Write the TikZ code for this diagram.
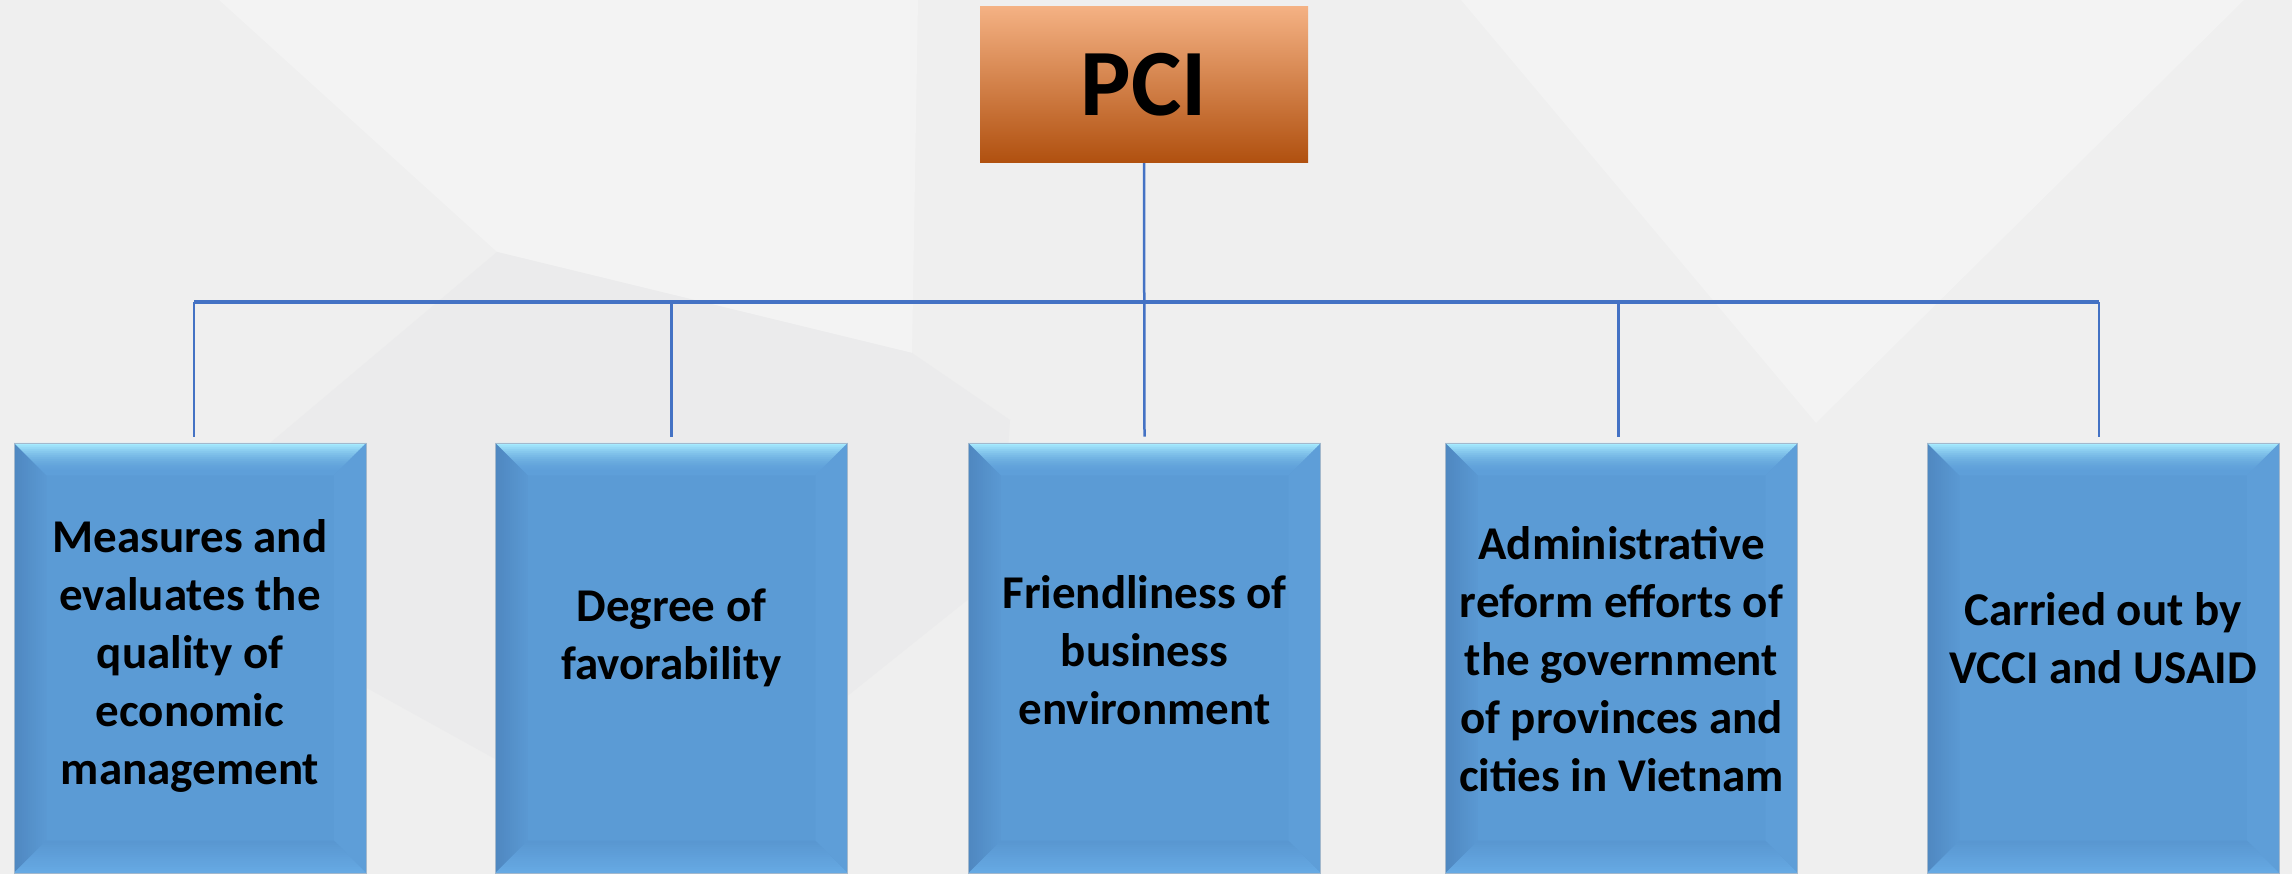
\documentclass[tikz,border=0pt]{standalone}
\usepackage{fontspec}
\setmainfont{Carlito}
\definecolor{connblue}{HTML}{4472C4}
\definecolor{bgbase}{HTML}{EFEFEF}
\definecolor{bglight}{HTML}{F3F3F3}
\definecolor{bgdark}{HTML}{EBEBEC}
\definecolor{boxmid}{HTML}{5B9BD5}
\definecolor{boxedge}{HTML}{A3B8CC}
\definecolor{bvltopout}{HTML}{A8ECFF}
\definecolor{bvltopin}{HTML}{5E9FD9}
\definecolor{bvlleftout}{HTML}{4F88C1}
\definecolor{bvlleftin}{HTML}{5A98D2}
\definecolor{bvlright}{HTML}{5E9ED8}
\definecolor{bvlbotin}{HTML}{5997D1}
\definecolor{bvlbotout}{HTML}{66A9E3}
\definecolor{pcitop}{HTML}{F4B183}
\definecolor{pcimid}{HTML}{F3852F}
\definecolor{pcibot}{HTML}{B0500F}
\newcommand{\bvlNW}{path picture bounding box.north west}
\newcommand{\bvlNE}{path picture bounding box.north east}
\newcommand{\bvlSW}{path picture bounding box.south west}
\newcommand{\bvlSE}{path picture bounding box.south east}
\begin{document}
\begin{tikzpicture}[x=1pt,y=1pt,
  conn/.style={draw=connblue, line width=2.5pt},
  busline/.style={draw=connblue, line width=3.2pt},
  pcibox/.style={minimum width=328pt, minimum height=156pt, inner sep=0pt,
    top color=pcitop, middle color=pcimid, bottom color=pcibot,
    font=\fontsize{95}{95}\selectfont\bfseries},
  bevelbox/.style={minimum width=352pt, minimum height=430pt, inner sep=0pt,
    fill=boxmid, draw=boxedge, line width=0.8pt,
    path picture={
      % right bevel
      \fill[bvlright] (\bvlNE) -- ([shift={(-32pt,-32pt)}]\bvlNE)
        -- ([shift={(-32pt,32pt)}]\bvlSE) -- (\bvlSE) -- cycle;
      % left, bottom and top bevels, each built from thin strips
      \foreach \i in {0,...,15} {
        \pgfmathsetmacro\ta{2*\i}
        \pgfmathsetmacro\tb{2*\i+2.4}
        \pgfmathsetmacro\tl{100*(1-\i/15)}
        \pgfmathsetmacro\tp{100*(1-\i/15)^2}
        \fill[bvlleftout!\tl!bvlleftin]
          ([shift={(\ta pt,-\ta pt)}]\bvlNW) -- ([shift={(\tb pt,-\tb pt)}]\bvlNW)
          -- ([shift={(\tb pt,\tb pt)}]\bvlSW) -- ([shift={(\ta pt,\ta pt)}]\bvlSW) -- cycle;
        \fill[bvlbotout!\tl!bvlbotin]
          ([shift={(\ta pt,\ta pt)}]\bvlSW) -- ([shift={(-\ta pt,\ta pt)}]\bvlSE)
          -- ([shift={(-\tb pt,\tb pt)}]\bvlSE) -- ([shift={(\tb pt,\tb pt)}]\bvlSW) -- cycle;
        \fill[bvltopout!\tp!bvltopin]
          ([shift={(\ta pt,-\ta pt)}]\bvlNW) -- ([shift={(-\ta pt,-\ta pt)}]\bvlNE)
          -- ([shift={(-\tb pt,-\tb pt)}]\bvlNE) -- ([shift={(\tb pt,-\tb pt)}]\bvlNW) -- cycle;
      }
    }},
  boxtext/.style={align=center, inner sep=0pt,
    font=\fontsize{47}{58}\selectfont\bfseries}
]
% canvas and faint background facets
\fill[bgbase] (0,0) rectangle (2292,874);
\useasboundingbox (0,0) rectangle (2292,874);
\fill[bglight] (219,874) -- (497,622) -- (912,521) -- (918,874) -- cycle;
\fill[bgdark] (150,330) -- (497,622) -- (912,521) -- (1010,454) -- (1000,300)
  -- (700,60) -- (497,114) -- (365,187) -- cycle;
\fill[bglight] (1461,874) -- (1816,451) -- (2244,874) -- cycle;

% top node
\node[pcibox] (pci) at (1144,789) {PCI};

% five attribute boxes
\node[bevelbox] (b1) at (190,216) {};
\node[bevelbox] (b2) at (671.5,216) {};
\node[bevelbox] (b3) at (1144.5,216) {};
\node[bevelbox] (b4) at (1621.5,216) {};
\node[bevelbox] (b5) at (2103,216) {};

\node[boxtext] (t1) at ([yshift=2pt]b1.center)
  {Measures and\\evaluates the\\quality of\\economic\\management};
\node[boxtext] (t2) at ([yshift=20pt]b2.center) {Degree of\\favorability};
\node[boxtext] (t3) at ([yshift=8pt]b3.center)
  {Friendliness of\\business\\environment};
\node[boxtext] (t4) at ([yshift=-1pt]b4.center)
  {Administrative\\reform efforts of\\the government\\of provinces and\\cities in Vietnam};
\node[boxtext] (t5) at ([yshift=20pt]b5.center) {Carried out by\\VCCI and USAID};

% connector taps above each box
\coordinate (bus) at (1144,572);
\coordinate (k1) at ([xshift=4pt,yshift=6pt]b1.north);
\coordinate (k2) at ([yshift=6pt]b2.north);
\coordinate (k3) at ([yshift=6pt]b3.north);
\coordinate (k4) at ([xshift=-3pt,yshift=6pt]b4.north);
\coordinate (k5) at ([xshift=-4pt,yshift=6pt]b5.north);

% connectors
\draw[busline] (k1 |- bus) -- (k5 |- bus);
\draw[conn] (pci.south) -- (k3);
\foreach \k in {k1,k2,k4,k5}
  \draw[conn] (\k |- bus) -- (\k);
\end{tikzpicture}
\end{document}
